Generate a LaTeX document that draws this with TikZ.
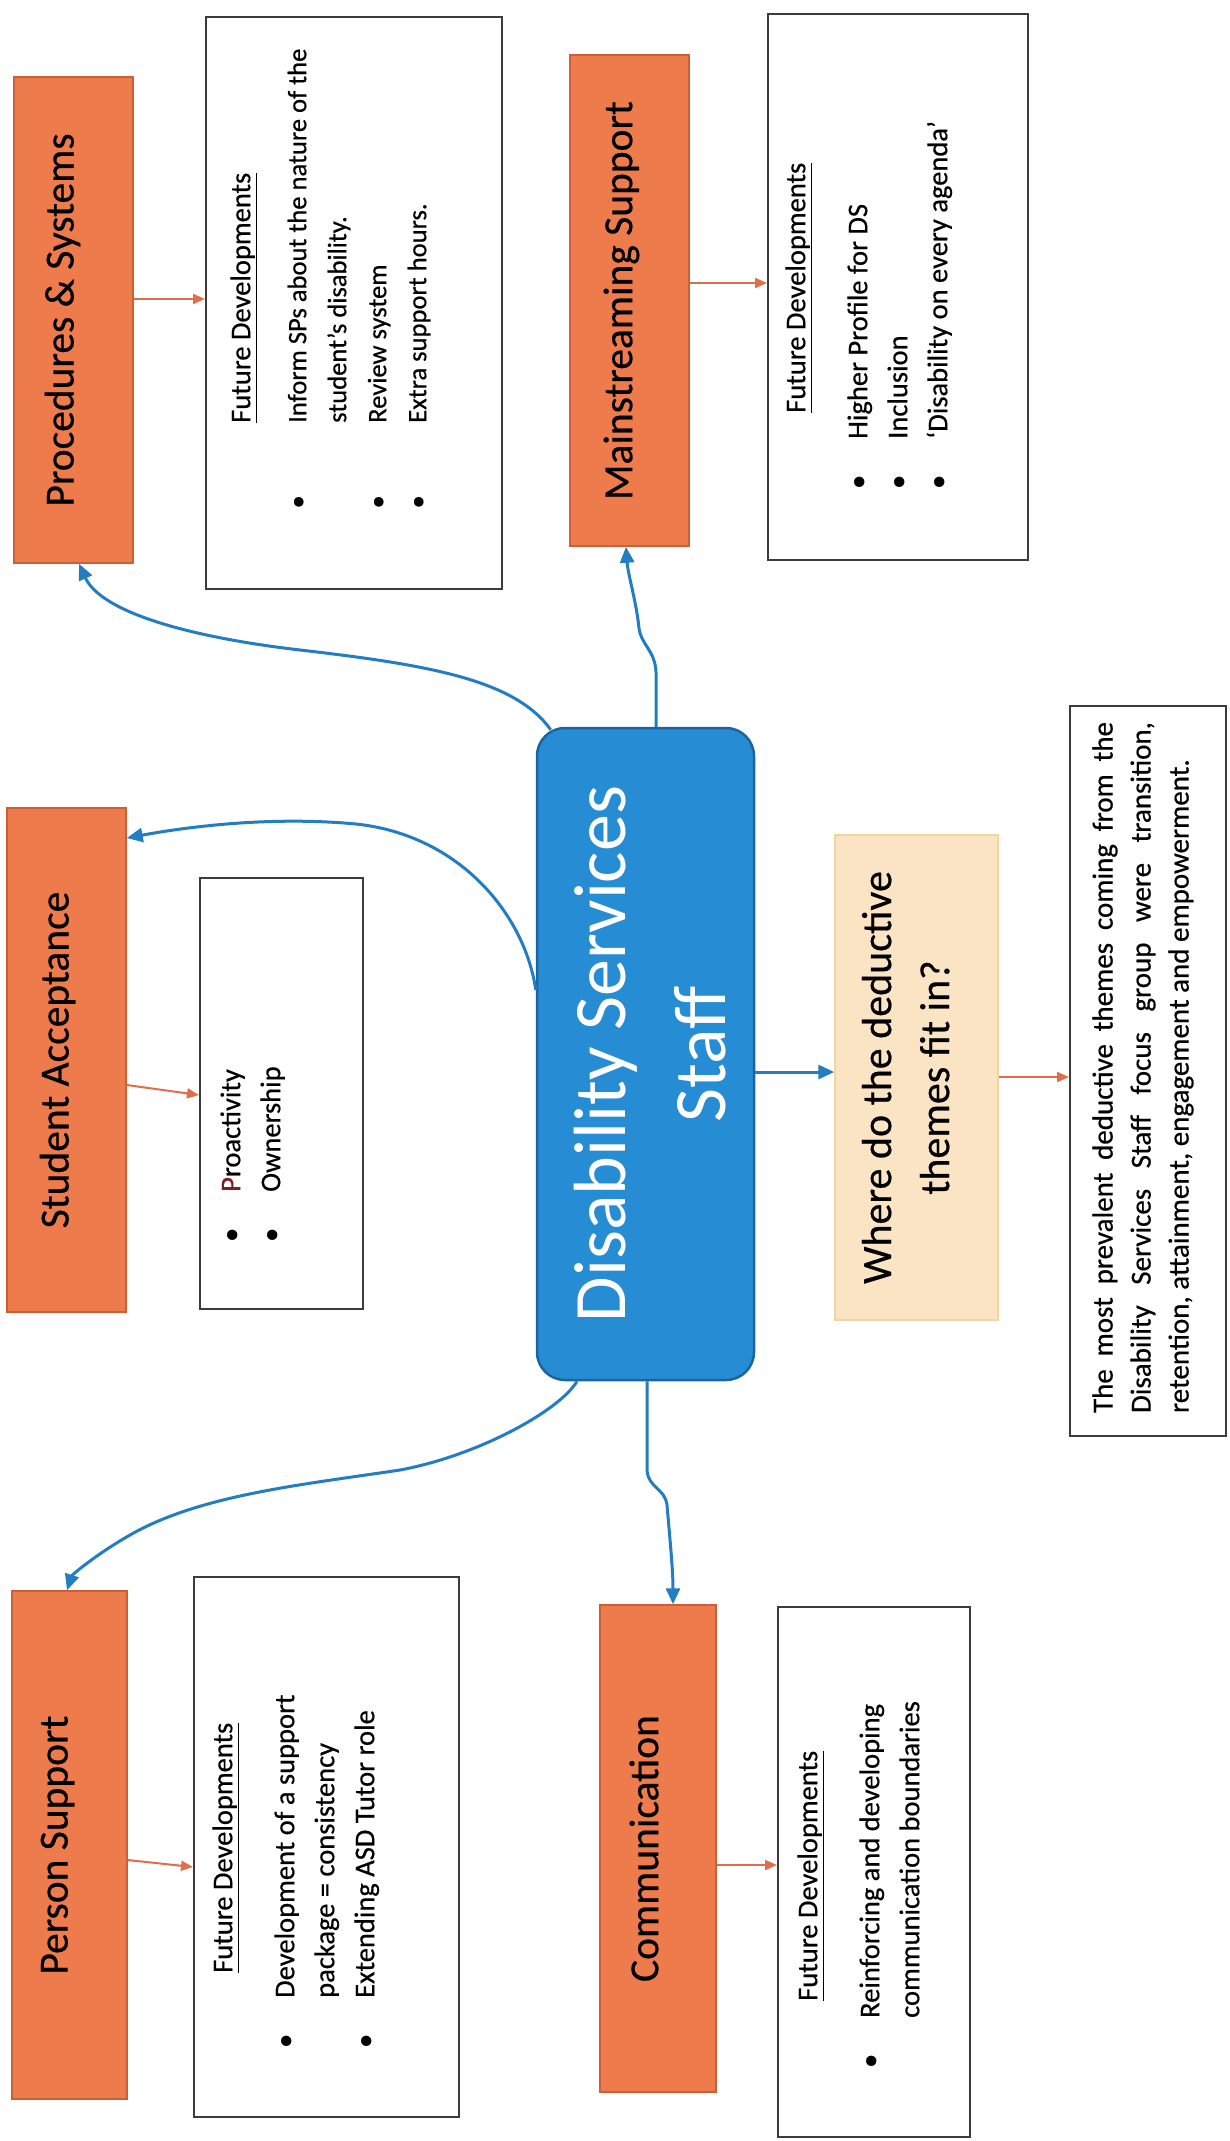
\documentclass[tikz,border=0pt]{standalone}
\usepackage{fontspec}
\setmainfont{Carlito}[FakeBold=0.5]
\newfontfamily\plainfont{Carlito}
\usepackage{graphicx}
\usetikzlibrary{arrows.meta}
\definecolor{orfill}{RGB}{237,123,76}
\definecolor{orborder}{RGB}{205,95,55}
\definecolor{cfill}{RGB}{38,141,212}
\definecolor{cborder}{RGB}{28,100,160}
\definecolor{bline}{RGB}{35,125,195}
\definecolor{oline}{RGB}{225,110,75}
\definecolor{yfill}{RGB}{251,228,195}
\definecolor{yborder}{RGB}{243,212,165}
\definecolor{boxline}{RGB}{60,60,60}
\definecolor{maroon}{RGB}{120,30,40}
\newcommand{\bulmark}[1]{\llap{\makebox[0pt]{\textbullet}\hspace*{#1pt}}}
\newcommand{\lab}[2]{\rotatebox{90}{\raisebox{#1pt}[\height][\depth]{#2}}}
\begin{document}
\begin{tikzpicture}[x=1pt,y=-1pt,
  obox/.style={draw=orborder, line width=1.5pt, fill=orfill, inner sep=0pt,
    font=\fontsize{41.5}{50}\selectfont},
  wbox/.style={draw=boxline, line width=2pt, fill=white, inner sep=0pt},
  cbox/.style={draw=cborder, line width=2.5pt, fill=cfill, rounded corners=28pt,
    text=white, inner sep=0pt, font=\plainfont\fontsize{74}{100}\selectfont},
  ybox/.style={draw=yborder, line width=1.5pt, fill=yfill, inner sep=0pt,
    font=\fontsize{42}{58}\selectfont},
  ltext/.style={anchor=south west, inner sep=0pt, font=\fontsize{28.5}{40}\selectfont},
  barrow/.style={draw=bline, line width=3pt, -{Triangle[length=16pt,width=14pt]}},
  oarrow/.style={draw=oline, line width=2pt, -{Triangle[length=12pt,width=10pt]}}
]
\useasboundingbox (0,0) rectangle (1230,2141);
\fill[white] (0,0) rectangle (1230,2141);

% orange theme boxes
\node[obox, minimum width=119, minimum height=486] (ps) at (73.5,320) {\lab{11}{Procedures \& Systems}};
\node[obox, minimum width=119, minimum height=491] (ms) at (629.5,300.5) {\lab{8}{Mainstreaming Support}};
\node[obox, minimum width=119, minimum height=504] (sa) at (66.5,1060) {\lab{9}{Student Acceptance}};
\node[obox, minimum width=115, minimum height=508] (pers) at (69.5,1845) {\lab{12}{Person Support}};
\node[obox, minimum width=116, minimum height=487] (comm) at (658,1848.5) {\lab{14}{Communication}};

% white boxes
\node[wbox, minimum width=296, minimum height=572] (fd1) at (354,303) {};
\node[wbox, minimum width=260, minimum height=546] (fd2) at (898,287) {};
\node[wbox, minimum width=163, minimum height=431] (pro) at (281.5,1093.5) {};
\node[wbox, minimum width=265, minimum height=540] (fd3) at (326.5,1847) {};
\node[wbox, minimum width=192, minimum height=530] (fd4) at (874,1872) {};
\node[wbox, minimum width=156, minimum height=730] (fin) at (1148,1071) {};

% central and question boxes
\node[cbox, minimum width=217, minimum height=652] (ds) at (645.5,1054)
  {\lab{-10}{\begin{tabular}{@{}c@{}}Disability Services\\Staff\end{tabular}}};
\node[ybox, minimum width=163, minimum height=485] (yq) at (916.5,1077.5)
  {\lab{8}{\begin{tabular}{@{}c@{}}Where do the deductive\\themes fit in?\end{tabular}}};

% texts in white boxes
\node[ltext, font=\fontsize{26.6}{40}\selectfont] (t1) at (222,423) {\rotatebox{90}{\begin{tabular}{@{}l@{}}
{\fontsize{28.5}{40}\selectfont\underline{Future Developments}}\\[16pt]
\bulmark{79}Inform SPs about the nature of the\\
student’s disability.\\
\bulmark{79}Review system\\
\bulmark{79}Extra support hours.
\end{tabular}}};
\node[ltext] (t2) at (777,439) {\rotatebox{90}{\begin{tabular}{@{}l@{}}
\hspace*{26pt}\underline{Future Developments}\\[22pt]
\bulmark{43}Higher Profile for DS\\
\bulmark{43}Inclusion\\
\bulmark{43}‘Disability on every agenda’
\end{tabular}}};
\node[ltext] (t3) at (212,1192) {\rotatebox{90}{\begin{tabular}{@{}l@{}}
\bulmark{43}\textcolor{maroon}{P}roactivity\\
\bulmark{43}Ownership
\end{tabular}}};
\node[ltext] (t4) at (204,1998) {\rotatebox{90}{\begin{tabular}{@{}l@{}}
\hspace*{25pt}\underline{Future Developments}\\[22pt]
\bulmark{43}Development of a support\\
package = consistency\\
\bulmark{43}Extending ASD Tutor role
\end{tabular}}};
\node[ltext] (t5) at (789,2018) {\rotatebox{90}{\begin{tabular}{@{}l@{}}
\hspace*{17pt}\underline{Future Developments}\\[22pt]
\bulmark{43}Reinforcing and developing\\
communication boundaries
\end{tabular}}};
\node[inner sep=0pt, font=\fontsize{29}{38}\selectfont] (t6) at (1143,1067.5) {\rotatebox{90}{\parbox{691pt}{\noindent
The most prevalent deductive themes coming from the\linebreak
Disability Services Staff focus group were transition,\linebreak
retention, attainment, engagement and empowerment.}}};

% blue connectors
\draw[barrow] ([shift={(15,3)}]ds.north west) .. controls (515,680) and (430,665) .. (300,650)
  .. controls (180,636) and (100,610) .. (ps.south -| 79,0);
\draw[barrow] (ds.west |- 0,990) .. controls (525,915) and (460,835) .. (356,824)
  .. controls (260,815) and (170,830) .. (sa.east |- 0,838);
\draw[barrow] (ds.north -| 656,0) -- (656,672) .. controls (655,650) and (641,645) .. (639,628)
  .. controls (636,600) and (628,575) .. (ms.south -| 626,0);
\draw[barrow] (ds.south -| 577,0) .. controls (560,1410) and (480,1455) .. (400,1470)
  .. controls (300,1485) and (200,1495) .. (130,1535)
  .. controls (95,1555) and (72,1575) .. (pers.north -| 67,0);
\draw[barrow] (ds.south -| 647,0) -- (647,1470) .. controls (648,1488) and (665,1488) .. (667,1505)
  .. controls (670,1540) and (673,1570) .. (comm.north -| 673,0);
\draw[barrow] (ds.east |- 0,1072) -- (yq.west |- 0,1072);

% orange connectors
\draw[oarrow] (ps.east |- 0,299) -- (fd1.west |- 0,299);
\draw[oarrow] (ms.east |- 0,283) -- (fd2.west |- 0,283);
\draw[oarrow] (sa.east |- 0,1085) -- (pro.west |- 0,1095);
\draw[oarrow] (pers.east |- 0,1860) -- (fd3.west |- 0,1867);
\draw[oarrow] (comm.east |- 0,1865) -- (fd4.west |- 0,1865);
\draw[oarrow] (yq.east |- 0,1077) -- (fin.west |- 0,1077);
\end{tikzpicture}
\end{document}
